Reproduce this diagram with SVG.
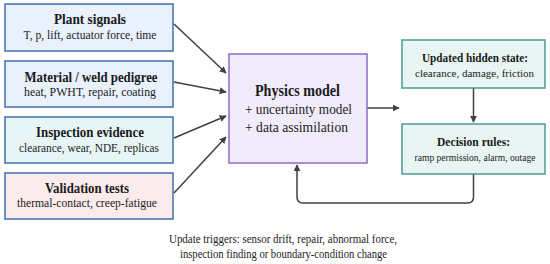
<svg xmlns="http://www.w3.org/2000/svg" width="550" height="264" viewBox="0 0 550 264" font-family="'Liberation Serif', serif">
<style>
text{font-family:'Liberation Serif',serif;text-anchor:middle}
.t{font-size:14px;font-weight:bold;fill:#1a1a1a}
.s{font-size:11.5px;fill:#222}
.pm{font-size:16px;font-weight:bold;fill:#1a1a1a}
.ps{font-size:14px;fill:#222}
.n{font-size:11.5px;fill:#222}
.bl{stroke:#3f6fb2;stroke-width:1.5}
.tl{fill:#e9f5f2;stroke:#4c9a92;stroke-width:1.5}
.c{fill:none;stroke:#404040;stroke-width:1.5}
</style>
<defs>
<marker id="a" viewBox="0 0 10 10" refX="9" refY="5" markerWidth="7" markerHeight="7" markerUnits="userSpaceOnUse" orient="auto"><path d="M0,0 L10,5 L0,10 z" fill="#404040"/></marker>
</defs>
<rect width="550" height="264" fill="#ffffff"/>
<g id="connectors">
<line class="c" x1="174" y1="24" x2="226" y2="73" marker-end="url(#a)"/>
<line class="c" x1="174" y1="82" x2="226" y2="92" marker-end="url(#a)"/>
<line class="c" x1="174" y1="138" x2="226" y2="116" marker-end="url(#a)"/>
<line class="c" x1="174" y1="193" x2="226" y2="137" marker-end="url(#a)"/>
<line class="c" x1="367" y1="108" x2="399" y2="108" marker-end="url(#a)"/>
<line class="c" x1="473.5" y1="88" x2="473.5" y2="122" marker-end="url(#a)"/>
<path class="c" d="M473.5 174 V197 Q473.5 203 467.5 203 H303 Q297 203 297 197 V165" marker-end="url(#a)"/>
</g>
<g id="plant">
<rect x="5" y="4" width="168" height="47" fill="#e9f1fc" class="bl"/>
<text class="t" x="90" y="24" textLength="72" lengthAdjust="spacingAndGlyphs">Plant signals</text>
<text class="s" x="90" y="39" textLength="133" lengthAdjust="spacingAndGlyphs">T, p, lift, actuator force, time</text>
</g>
<g id="material">
<rect x="5" y="61" width="168" height="46" fill="#e9f1fc" class="bl"/>
<text class="t" x="91" y="82" textLength="133" lengthAdjust="spacingAndGlyphs">Material / weld pedigree</text>
<text class="s" x="90" y="96" textLength="132" lengthAdjust="spacingAndGlyphs">heat, PWHT, repair, coating</text>
</g>
<g id="inspection">
<rect x="5" y="117" width="168" height="46" fill="#e8f5f6" class="bl"/>
<text class="t" x="90" y="137" textLength="108" lengthAdjust="spacingAndGlyphs">Inspection evidence</text>
<text class="s" x="89" y="152" textLength="140" lengthAdjust="spacingAndGlyphs">clearance, wear, NDE, replicas</text>
</g>
<g id="validation">
<rect x="5" y="173" width="168" height="46" fill="#fcebec" class="bl"/>
<text class="t" x="87" y="193" textLength="84" lengthAdjust="spacingAndGlyphs">Validation tests</text>
<text class="s" x="87" y="207" textLength="140" lengthAdjust="spacingAndGlyphs">thermal-contact, creep-fatigue</text>
</g>
<g id="physics">
<rect x="229" y="54" width="138" height="109" fill="#f1ecfc" stroke="#8a6ccc" stroke-width="1.5"/>
<text class="pm" x="297.5" y="96" textLength="85" lengthAdjust="spacingAndGlyphs">Physics model</text>
<text class="ps" x="298.5" y="114" textLength="107" lengthAdjust="spacingAndGlyphs">+ uncertainty model</text>
<text class="ps" x="296.5" y="132" textLength="103" lengthAdjust="spacingAndGlyphs">+ data assimilation</text>
</g>
<g id="hidden">
<rect x="402" y="40" width="143" height="48" class="tl"/>
<text class="t" x="475" y="62" style="font-size:13px" textLength="106" lengthAdjust="spacingAndGlyphs">Updated hidden state:</text>
<text class="s" x="474.5" y="77" style="font-size:11px" textLength="119" lengthAdjust="spacingAndGlyphs">clearance, damage, friction</text>
</g>
<g id="decision">
<rect x="402" y="124" width="143" height="50" class="tl"/>
<text class="t" x="473.5" y="146" style="font-size:13px" textLength="73" lengthAdjust="spacingAndGlyphs">Decision rules:</text>
<text class="s" x="475" y="161" style="font-size:10px" textLength="121" lengthAdjust="spacingAndGlyphs">ramp permission, alarm, outage</text>
</g>
<g id="note">
<text class="n" x="283" y="243" textLength="228" lengthAdjust="spacingAndGlyphs">Update triggers: sensor drift, repair, abnormal force,</text>
<text class="n" x="283.5" y="258" textLength="207" lengthAdjust="spacingAndGlyphs">inspection finding or boundary-condition change</text>
</g>
</svg>
